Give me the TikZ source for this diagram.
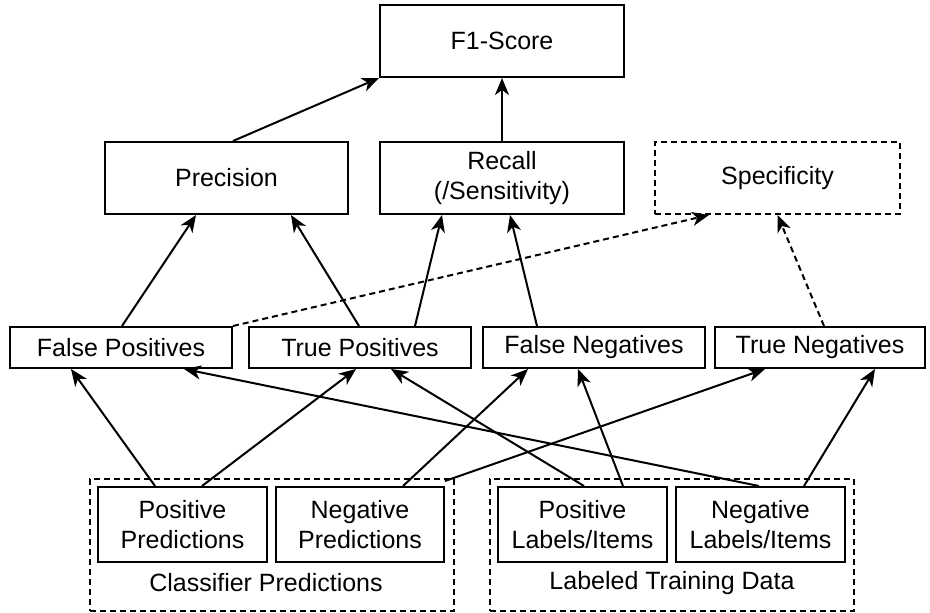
\documentclass[tikz,border=0pt]{standalone}
\usepackage{fontspec}
\setmainfont{Liberation Sans}
\usetikzlibrary{arrows.meta}
\begin{document}
\begin{tikzpicture}[x=1pt,y=-1pt,
  box/.style={draw,line width=2pt,inner sep=0pt,align=center,font=\fontsize{25}{30}\selectfont},
  dbox/.style={box,dashed,dash pattern=on 6pt off 4pt},
  grp/.style={draw,line width=1.6pt,dash pattern=on 6pt off 4pt},
  arr/.style={line width=2pt,-{Stealth[length=17pt,width=14pt,inset=5pt]}},
  darr/.style={arr,dash pattern=on 6pt off 4pt},
  lbl/.style={font=\fontsize{25}{30}\selectfont,inner sep=0pt}]
\useasboundingbox (0,0) rectangle (930,613);
% top
\node[box,minimum width=244pt,minimum height=72pt] (f1) at (502,41) {F1-Score};
\node[box,minimum width=243pt,minimum height=72pt] (prec) at (226.5,178) {Precision};
\node[box,minimum width=244pt,minimum height=72pt] (rec) at (502,178) {Recall\\(/Sensitivity)};
\node[dbox,minimum width=245pt,minimum height=72pt] (spec) at (777.5,178) {Specificity};
% middle
\node[box,minimum width=222pt,minimum height=41pt] (fp) at (121,347.5) {False Positives};
\node[box,minimum width=222pt,minimum height=41pt] (tp) at (360,347.5) {True Positives};
\node[box,minimum width=222pt,minimum height=41pt] (fn) at (594,347.5) {False Negatives};
\node[box,minimum width=210pt,minimum height=41pt] (tn) at (820,347.5) {True Negatives};
% bottom groups
\node[grp,minimum width=364pt,minimum height=132pt,inner sep=0pt] (gl) at (272,545) {};
\node[grp,minimum width=364pt,minimum height=132pt,inner sep=0pt] (gr) at (672,545) {};
\node[lbl] (gll) at (266,583) {Classifier Predictions};
\node[lbl] (grl) at (672,583) {Labeled Training Data};
\node[box,minimum width=169pt,minimum height=75pt] (pp) at (182.5,524.5) {Positive\\Predictions};
\node[box,minimum width=168pt,minimum height=75pt] (np) at (360,524.5) {Negative\\Predictions};
\node[box,minimum width=169pt,minimum height=75pt] (pl) at (582.5,524.5) {Positive\\Labels/Items};
\node[box,minimum width=169pt,minimum height=75pt] (nl) at (760.5,524.5) {Negative\\Labels/Items};
% arrows top
\draw[arr] ([xshift=6.5pt]prec.north) -- (f1.south west);
\draw[arr] (rec.north) -- (f1.south);
\draw[arr] ([xshift=1pt]fp.north) -- ([xshift=-30.5pt]prec.south);
\draw[arr] ([xshift=-1pt]tp.north) -- ([xshift=64.5pt]prec.south);
\draw[arr] ([xshift=55pt]tp.north) -- ([xshift=-60pt]rec.south);
\draw[arr] ([xshift=-57pt]fn.north) -- ([xshift=8pt]rec.south);
\draw[darr] (fp.north east) -- ([xshift=-68.5pt]spec.south);
\draw[darr] ([xshift=4pt]tn.north) -- (spec.south);
% arrows bottom
\draw[arr] ([xshift=-27.5pt]pp.north) -- ([xshift=-50pt]fp.south);
\draw[arr] ([xshift=19.5pt]pp.north) -- ([xshift=-4pt]tp.south);
\draw[arr] ([xshift=43pt]np.north) -- ([xshift=-66pt]fn.south);
\draw[arr] ([yshift=5pt]np.north east) -- ([xshift=-55pt]tn.south);
\draw[arr] ([xshift=1.5pt]pl.north) -- ([xshift=31pt]tp.south);
\draw[arr] ([xshift=40.5pt]pl.north) -- ([xshift=-16pt]fn.south);
\draw[arr] ([xshift=-1.5pt]nl.north) -- ([xshift=63pt]fp.south);
\draw[arr] ([xshift=43.5pt]nl.north) -- ([xshift=55pt]tn.south);
\end{tikzpicture}
\end{document}
